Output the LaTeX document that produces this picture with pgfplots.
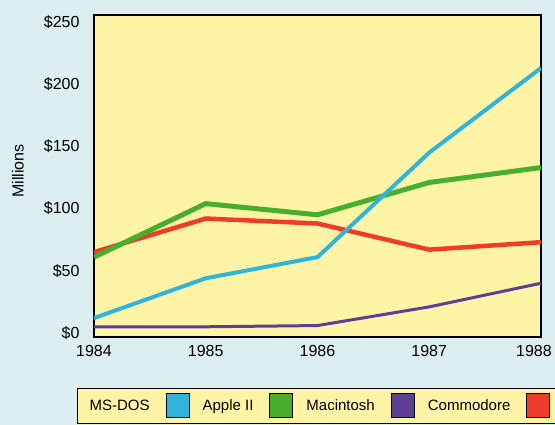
\documentclass[border=0pt]{standalone}
\usepackage{fontspec}
\setmainfont{Liberation Sans}
\usepackage{pgfplots}
\pgfplotsset{compat=1.18}
\definecolor{bgblue}{HTML}{DCEEF0}
\definecolor{plotyellow}{HTML}{FFF4A6}
\definecolor{dosblue}{HTML}{30B4DC}
\definecolor{applegreen}{HTML}{48AE2E}
\definecolor{macpurple}{HTML}{5B3F94}
\definecolor{comred}{HTML}{EE3B2A}
\begin{document}
\begin{tikzpicture}[x=1pt,y=1pt]
\useasboundingbox (0,0) rectangle (555,425);
\clip (0,0) rectangle (555,425);
\fill[bgblue] (0,0) rectangle (555,425);
\begin{axis}[
    at={(94pt,88pt)}, anchor=south west,
    scale only axis, width=447pt, height=322pt,
    xmin=1984, xmax=1988, ymin=-3.2, ymax=255.6,
    xtick={1984,1985,1986,1987},
    extra x ticks={1988},
    extra x tick style={xticklabel style={xshift=-7pt}},
    ytick={0,50,100,150,200,250},
    /pgf/number format/assume math mode=true,
    /pgf/number format/1000 sep={},
    yticklabel={\$\pgfmathprintnumber{\tick}},
    major tick length=0pt,
    axis line style={line width=1.5pt},
    axis background/.style={fill=plotyellow},
    font=\fontsize{16}{18}\selectfont,
    tick label style={font=\fontsize{16}{18}\selectfont},
    yticklabel style={xshift=-11pt},
    xticklabel style={yshift=-5pt},
    ylabel={Millions},
    ylabel style={font=\fontsize{16}{18}\selectfont, at={(axis description cs:-0.17,0.515)}, anchor=center},
    legend columns=4,
    legend plot pos=right,
    legend style={at={(-0.038,-0.158)}, anchor=north west,
        draw=black, line width=1.2pt, fill=plotyellow,
        font=\fontsize{15}{17}\selectfont,
        inner xsep=10pt, inner ysep=5pt,
        /tikz/every odd column/.append style={column sep=14pt},
        /tikz/every even column/.append style={column sep=11pt}},
    legend image code/.code={\draw[#1, fill, draw=black, line width=1pt] (0pt,-12pt) rectangle (23pt,12pt);},
]
\addlegendimage{color=dosblue}
\addlegendentry{MS-DOS}
\addlegendimage{color=applegreen}
\addlegendentry{Apple II}
\addlegendimage{color=macpurple}
\addlegendentry{Macintosh}
\addlegendimage{color=comred}
\addlegendentry{Commodore}
% Commodore
\addplot[forget plot, comred, line width=4.5pt] coordinates {(1984,65) (1985,92) (1986,88) (1987,67) (1988,73)};
% Macintosh
\addplot[forget plot, macpurple, line width=3pt] coordinates {(1984,5) (1985,5) (1986,6) (1987,21) (1988,40)};
% Apple II
\addplot[forget plot, applegreen, line width=5pt] coordinates {(1984,61) (1985,104) (1986,95) (1987,121) (1988,133)};
% MS-DOS
\addplot[forget plot, dosblue, line width=4pt] coordinates {(1984,12) (1985,44) (1986,61) (1987,145) (1988,213)};
\end{axis}
\end{tikzpicture}
\end{document}
